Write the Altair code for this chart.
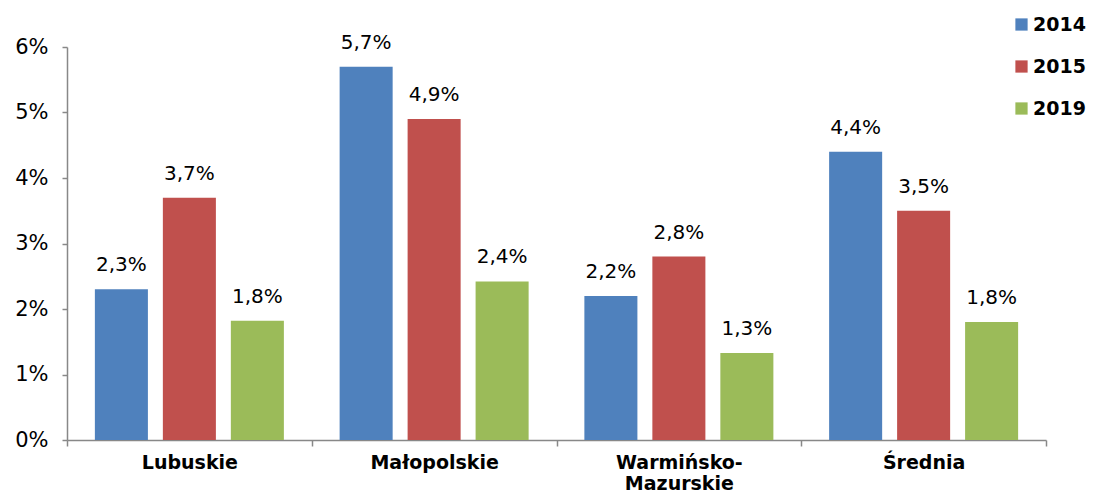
import altair as alt
import pandas as pd

categories = ["Lubuskie", "Małopolskie", "Warmińsko-Mazurskie", "Średnia"]
years = ["2014", "2015", "2019"]
v2014 = [2.3, 5.7, 2.2, 4.4]
v2015 = [3.7, 4.9, 2.8, 3.5]
v2019 = [1.82, 2.42, 1.33, 1.8]
l2014 = ["2,3%", "5,7%", "2,2%", "4,4%"]
l2015 = ["3,7%", "4,9%", "2,8%", "3,5%"]
l2019 = ["1,8%", "2,4%", "1,3%", "1,8%"]
colors = ["#4F81BD", "#C0504D", "#9BBB59"]

rows = []
for y, vals, labs in zip(years, [v2014, v2015, v2019], [l2014, l2015, l2019]):
    for c, v, l in zip(categories, vals, labs):
        rows.append({"category": c, "year": y, "value": v, "label": l})
df = pd.DataFrame(rows)

FONT = "DejaVu Sans"

x = alt.X("category:N", sort=categories, title=None,
          scale=alt.Scale(paddingInner=0, paddingOuter=0),
          axis=alt.Axis(labelAngle=0, labelFont=FONT, labelFontSize=19, labelFontWeight="bold",
                        labelColor="#000", labelPadding=7, tickBand="extent", tickSize=6,
                        tickColor="#888", domainColor="#888", domainWidth=1.5, tickWidth=1.5,
                        labelLineHeight=21,
                        labelExpr="datum.label == 'Warmińsko-Mazurskie' ? ['Warmińsko-', 'Mazurskie'] : datum.label"))
xo = alt.XOffset("year:N", sort=years, scale=alt.Scale(paddingInner=0.22, paddingOuter=0.41))
y = alt.Y("value:Q", title=None,
          scale=alt.Scale(domain=[0, 6], nice=False),
          axis=alt.Axis(values=[0, 1, 2, 3, 4, 5, 6], grid=False, labelFont=FONT, labelFontSize=21,
                        labelColor="#000", tickSize=5, tickColor="#888", domainColor="#888",
                        domainWidth=1.5, tickWidth=1.5, labelPadding=14,
                        labelExpr="datum.value + '%'"))
color = alt.Color("year:N", sort=years, scale=alt.Scale(domain=years, range=colors),
                  legend=alt.Legend(title=None, orient="none", legendX=945, legendY=-32,
                                    symbolType="square", symbolSize=150, symbolStrokeWidth=0,
                                    labelFont=FONT, labelFontSize=19, labelFontWeight="bold",
                                    labelColor="#000", rowPadding=22, labelOffset=2))

bars = alt.Chart(df).mark_bar().encode(x=x, xOffset=xo, y=y, color=color)
text = alt.Chart(df).mark_text(baseline="bottom", dy=-14, font=FONT, fontSize=20, color="#000").encode(
    x=x, xOffset=xo, y=y, text="label:N")

chart = (bars + text).properties(
    width=979, height=393,
    autosize=alt.AutoSizeParams(type="none"),
    padding={"left": 59, "top": 39, "right": 45, "bottom": 54},
).configure_view(stroke=None)

chart.save("out.html", embed_options={"renderer": "svg", "actions": False})
